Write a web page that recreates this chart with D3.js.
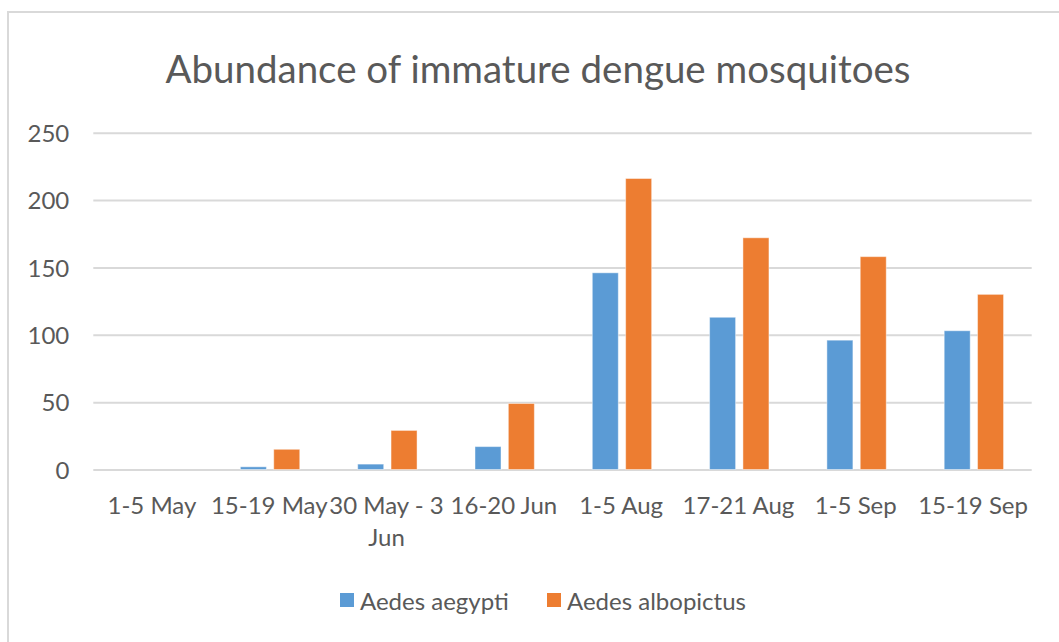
<!DOCTYPE html>
<html>
<head>
<meta charset="utf-8">
<script src="https://cdn.jsdelivr.net/npm/d3@7"></script>
<style>
  html, body { margin: 0; padding: 0; background: #ffffff; }
  svg { display: block; }
  text { font-family: Lato, "Open Sans", "DejaVu Sans", sans-serif; fill: #595959; }
</style>
</head>
<body>
<svg id="chart" width="1059" height="642"></svg>
<script>
// ---- data ----
const title = "Abundance of immature dengue mosquitoes";
const categories = ["1-5 May", "15-19 May", "30 May - 3 Jun", "16-20 Jun", "1-5 Aug", "17-21 Aug", "1-5 Sep", "15-19 Sep"];
const seriesNames = ["Aedes aegypti", "Aedes albopictus"];
const aegypti = [0, 2, 4, 17, 146, 113, 96, 103];
const albopictus = [0, 15, 29, 49, 216, 172, 158, 130];
const yTicks = [0, 50, 100, 150, 200, 250];
const colors = ["#5B9BD5", "#ED7D31"];

const seriesValues = [aegypti, albopictus];
const rows = categories.map((c, i) => ({ cat: c, values: seriesNames.map((s, k) => ({ series: s, value: seriesValues[k][i] })) }));

const svg = d3.select("#chart");

// chart border (top and left visible)
svg.append("line").attr("x1", 8).attr("x2", 1059).attr("y1", 12).attr("y2", 12)
  .attr("stroke", "#d9d9d9").attr("stroke-width", 2);
svg.append("line").attr("x1", 8).attr("x2", 8).attr("y1", 11).attr("y2", 642)
  .attr("stroke", "#d9d9d9").attr("stroke-width", 2);

// scales
const plotLeft = 93.3, plotRight = 1031.7;
const y = d3.scaleLinear().domain([0, 250]).range([469.5, 132.7]);
const x0 = d3.scaleBand().domain(categories).range([plotLeft, plotRight]).padding(0);
const bw = x0.bandwidth();
const x1 = d3.scaleBand().domain(seriesNames).range([bw * 0.254, bw * 0.76]).paddingInner(0.22).paddingOuter(0);
const color = d3.scaleOrdinal().domain(seriesNames).range(colors);

// title
svg.append("text").attr("x", 538).attr("y", 83).attr("text-anchor", "middle")
  .style("font-size", "38.5px").text(title);

// gridlines + y labels
const yAxis = d3.axisLeft(y).tickValues(yTicks).tickSize(-(plotRight - plotLeft)).tickPadding(24);
const gy = svg.append("g").attr("transform", `translate(${plotLeft},0)`).call(yAxis);
gy.select(".domain").remove();
gy.selectAll(".tick line").attr("stroke", "#d9d9d9").attr("stroke-width", 2);
gy.selectAll(".tick text").style("font-size", "24px").attr("fill", "#595959").attr("dy", "0.36em");

// bars
const groups = svg.append("g").selectAll("g").data(rows).join("g")
  .attr("transform", d => `translate(${x0(d.cat)},0)`);
groups.selectAll("rect").data(d => d.values).join("rect")
  .attr("x", d => x1(d.series))
  .attr("width", x1.bandwidth())
  .attr("y", d => y(d.value))
  .attr("height", d => y(0) - y(d.value))
  .attr("fill", d => color(d.series))
  .attr("stroke", "#ffffff").attr("stroke-opacity", 0.45).attr("stroke-width", 1);

// x axis labels
const xAxis = d3.axisBottom(x0).tickSize(0).tickPadding(0);
const gx = svg.append("g").attr("transform", `translate(0,${y(0)})`).call(xAxis);
gx.select(".domain").remove();
gx.selectAll(".tick text").style("font-size", "24px").attr("fill", "#595959")
  .attr("dy", null).attr("y", 44);

function wrap(sel, width) {
  sel.each(function() {
    const t = d3.select(this);
    const words = t.text().split(/\s+/);
    t.text(null);
    let line = [];
    let lineNo = 0;
    let tspan = t.append("tspan").attr("x", 0).attr("y", 44);
    for (const w of words) {
      line.push(w);
      tspan.text(line.join(" "));
      if (tspan.node().getComputedTextLength() > width && line.length > 1) {
        line.pop();
        tspan.text(line.join(" "));
        line = [w];
        lineNo++;
        tspan = t.append("tspan").attr("x", 0).attr("y", 44 + lineNo * 32).text(w);
      }
    }
  });
}
gx.selectAll(".tick text").call(wrap, bw * 1.08);

// legend
const legendItems = [
  { name: seriesNames[0], sx: 340, tx: 360 },
  { name: seriesNames[1], sx: 547, tx: 567 }
];
const lg = svg.append("g");
lg.selectAll("rect").data(legendItems).join("rect")
  .attr("x", d => d.sx).attr("y", 593).attr("width", 14).attr("height", 14)
  .attr("fill", d => color(d.name));
lg.selectAll("text").data(legendItems).join("text")
  .attr("x", d => d.tx).attr("y", 610).style("font-size", "24px").text(d => d.name);
</script>
</body>
</html>
